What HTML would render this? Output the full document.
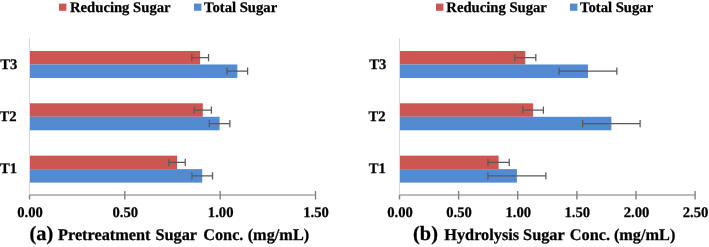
<!DOCTYPE html>
<html><head><meta charset="utf-8"><style>
html,body{margin:0;padding:0;background:#fff;width:709px;height:247px;overflow:hidden}
svg{display:block;filter:blur(0.45px)} text{text-rendering:geometricPrecision}
</style></head><body>
<svg width="709" height="247" viewBox="0 0 709 247">
<rect width="709" height="247" fill="#fff"/>
<rect x="59" y="3.6" width="7.4" height="7.2" fill="#CD5652"/>
<text x="70" y="11.5" font-family="Liberation Serif" font-weight="bold" stroke="#000" stroke-width="0.25" font-size="14.67">Reducing Sugar</text>
<rect x="194" y="3.6" width="7.4" height="7.2" fill="#548AD0"/>
<text x="204" y="11.5" font-family="Liberation Serif" font-weight="bold" stroke="#000" stroke-width="0.25" font-size="14.67">Total Sugar</text>
<line x1="29.5" y1="38.0" x2="29.5" y2="195.0" stroke="#D9D9D9" stroke-width="1"/>
<rect x="30.0" y="50.97" width="170.15" height="13.5" fill="#CD5652"/>
<rect x="30.0" y="64.47" width="207.33" height="13.5" fill="#548AD0"/>
<path d="M191.76 57.72H208.54M191.76 54.12V61.32M208.54 54.12V61.32" stroke="#595959" stroke-width="1.25" fill="none"/>
<path d="M227.03 71.22H247.62M227.03 67.62V74.82M247.62 67.62V74.82" stroke="#595959" stroke-width="1.25" fill="none"/>
<text x="17.40" y="69.27" text-anchor="end" font-family="Liberation Serif" font-weight="bold" stroke="#000" stroke-width="0.25" font-size="14.67">T3</text>
<rect x="30.0" y="103.30" width="172.82" height="13.5" fill="#CD5652"/>
<rect x="30.0" y="116.80" width="189.59" height="13.5" fill="#548AD0"/>
<path d="M194.24 110.05H211.40M194.24 106.45V113.65M211.40 106.45V113.65" stroke="#595959" stroke-width="1.25" fill="none"/>
<path d="M209.30 123.55H229.89M209.30 119.95V127.15M229.89 119.95V127.15" stroke="#595959" stroke-width="1.25" fill="none"/>
<text x="16.70" y="121.30" text-anchor="end" font-family="Liberation Serif" font-weight="bold" stroke="#000" stroke-width="0.25" font-size="14.67">T2</text>
<rect x="30.0" y="155.63" width="147.08" height="13.5" fill="#CD5652"/>
<rect x="30.0" y="169.13" width="172.24" height="13.5" fill="#548AD0"/>
<path d="M168.88 162.38H185.27M168.88 158.78V165.98M185.27 158.78V165.98" stroke="#595959" stroke-width="1.25" fill="none"/>
<path d="M191.95 175.88H212.54M191.95 172.28V179.48M212.54 172.28V179.48" stroke="#595959" stroke-width="1.25" fill="none"/>
<text x="17.00" y="173.33" text-anchor="end" font-family="Liberation Serif" font-weight="bold" stroke="#000" stroke-width="0.25" font-size="14.67">T1</text>
<line x1="29.5" y1="195.0" x2="315.50" y2="195.0" stroke="#A6A6A6" stroke-width="1.5"/>
<line x1="29.50" y1="195.0" x2="29.50" y2="199.5" stroke="#808080" stroke-width="1.4"/>
<text x="30.00" y="216.9" text-anchor="middle" font-family="Liberation Serif" font-weight="bold" stroke="#000" stroke-width="0.25" font-size="14.67">0.00</text>
<line x1="124.83" y1="191.0" x2="124.83" y2="199.5" stroke="#808080" stroke-width="1.4"/>
<text x="125.33" y="216.9" text-anchor="middle" font-family="Liberation Serif" font-weight="bold" stroke="#000" stroke-width="0.25" font-size="14.67">0.50</text>
<line x1="220.17" y1="191.0" x2="220.17" y2="199.5" stroke="#808080" stroke-width="1.4"/>
<text x="220.67" y="216.9" text-anchor="middle" font-family="Liberation Serif" font-weight="bold" stroke="#000" stroke-width="0.25" font-size="14.67">1.00</text>
<line x1="315.50" y1="191.0" x2="315.50" y2="199.5" stroke="#808080" stroke-width="1.4"/>
<text x="316.00" y="216.9" text-anchor="middle" font-family="Liberation Serif" font-weight="bold" stroke="#000" stroke-width="0.25" font-size="14.67">1.50</text>
<text x="29.6" y="239.7" font-family="Liberation Serif" font-weight="bold" stroke="#000" stroke-width="0.25" font-size="20.3">(a)</text>
<text x="58.0" y="240.2" font-family="Liberation Serif" font-weight="bold" stroke="#000" stroke-width="0.25" font-size="16.3">Pretreatment</text>
<text x="155.4" y="240.2" font-family="Liberation Serif" font-weight="bold" stroke="#000" stroke-width="0.25" font-size="16.3">Sugar</text>
<text x="203.2" y="240.2" font-family="Liberation Serif" font-weight="bold" stroke="#000" stroke-width="0.25" font-size="16.3">Conc.</text>
<text x="247.7" y="240.2" font-family="Liberation Serif" font-weight="bold" stroke="#000" stroke-width="0.25" font-size="16.3">(mg/mL)</text>
<rect x="436" y="3.6" width="7.4" height="7.2" fill="#CD5652"/>
<text x="446.3" y="11.5" font-family="Liberation Serif" font-weight="bold" stroke="#000" stroke-width="0.25" font-size="14.67">Reducing Sugar</text>
<rect x="570" y="3.6" width="7.4" height="7.2" fill="#548AD0"/>
<text x="580" y="11.5" font-family="Liberation Serif" font-weight="bold" stroke="#000" stroke-width="0.25" font-size="14.67">Total Sugar</text>
<line x1="399.5" y1="38.0" x2="399.5" y2="195.0" stroke="#D9D9D9" stroke-width="1"/>
<rect x="400.0" y="50.97" width="125.31" height="13.5" fill="#CD5652"/>
<rect x="400.0" y="64.47" width="187.97" height="13.5" fill="#548AD0"/>
<path d="M514.78 57.72H535.83M514.78 54.12V61.32M535.83 54.12V61.32" stroke="#595959" stroke-width="1.25" fill="none"/>
<path d="M559.12 71.22H616.83M559.12 67.62V74.82M616.83 67.62V74.82" stroke="#595959" stroke-width="1.25" fill="none"/>
<text x="386.30" y="69.27" text-anchor="end" font-family="Liberation Serif" font-weight="bold" stroke="#000" stroke-width="0.25" font-size="14.67">T3</text>
<rect x="400.0" y="103.30" width="133.11" height="13.5" fill="#CD5652"/>
<rect x="400.0" y="116.80" width="211.39" height="13.5" fill="#548AD0"/>
<path d="M522.82 110.05H543.40M522.82 106.45V113.65M543.40 106.45V113.65" stroke="#595959" stroke-width="1.25" fill="none"/>
<path d="M582.65 123.55H640.12M582.65 119.95V127.15M640.12 119.95V127.15" stroke="#595959" stroke-width="1.25" fill="none"/>
<text x="385.60" y="121.30" text-anchor="end" font-family="Liberation Serif" font-weight="bold" stroke="#000" stroke-width="0.25" font-size="14.67">T2</text>
<rect x="400.0" y="155.63" width="98.59" height="13.5" fill="#CD5652"/>
<rect x="400.0" y="169.13" width="116.91" height="13.5" fill="#548AD0"/>
<path d="M487.94 162.38H509.23M487.94 158.78V165.98M509.23 158.78V165.98" stroke="#595959" stroke-width="1.25" fill="none"/>
<path d="M487.94 175.88H545.88M487.94 172.28V179.48M545.88 172.28V179.48" stroke="#595959" stroke-width="1.25" fill="none"/>
<text x="385.90" y="173.33" text-anchor="end" font-family="Liberation Serif" font-weight="bold" stroke="#000" stroke-width="0.25" font-size="14.67">T1</text>
<line x1="399.5" y1="195.0" x2="695.10" y2="195.0" stroke="#A6A6A6" stroke-width="1.5"/>
<line x1="399.50" y1="195.0" x2="399.50" y2="199.5" stroke="#808080" stroke-width="1.4"/>
<text x="400.00" y="216.9" text-anchor="middle" font-family="Liberation Serif" font-weight="bold" stroke="#000" stroke-width="0.25" font-size="14.67">0.00</text>
<line x1="458.62" y1="191.0" x2="458.62" y2="199.5" stroke="#808080" stroke-width="1.4"/>
<text x="459.12" y="216.9" text-anchor="middle" font-family="Liberation Serif" font-weight="bold" stroke="#000" stroke-width="0.25" font-size="14.67">0.50</text>
<line x1="517.74" y1="191.0" x2="517.74" y2="199.5" stroke="#808080" stroke-width="1.4"/>
<text x="518.24" y="216.9" text-anchor="middle" font-family="Liberation Serif" font-weight="bold" stroke="#000" stroke-width="0.25" font-size="14.67">1.00</text>
<line x1="576.86" y1="191.0" x2="576.86" y2="199.5" stroke="#808080" stroke-width="1.4"/>
<text x="577.36" y="216.9" text-anchor="middle" font-family="Liberation Serif" font-weight="bold" stroke="#000" stroke-width="0.25" font-size="14.67">1.50</text>
<line x1="635.98" y1="191.0" x2="635.98" y2="199.5" stroke="#808080" stroke-width="1.4"/>
<text x="636.48" y="216.9" text-anchor="middle" font-family="Liberation Serif" font-weight="bold" stroke="#000" stroke-width="0.25" font-size="14.67">2.00</text>
<line x1="695.10" y1="191.0" x2="695.10" y2="199.5" stroke="#808080" stroke-width="1.4"/>
<text x="695.60" y="216.9" text-anchor="middle" font-family="Liberation Serif" font-weight="bold" stroke="#000" stroke-width="0.25" font-size="14.67">2.50</text>
<text x="413.1" y="239.7" font-family="Liberation Serif" font-weight="bold" stroke="#000" stroke-width="0.25" font-size="20.3">(b)</text>
<text x="444.3" y="240.2" font-family="Liberation Serif" font-weight="bold" stroke="#000" stroke-width="0.25" font-size="16.3">Hydrolysis</text>
<text x="523.1" y="240.2" font-family="Liberation Serif" font-weight="bold" stroke="#000" stroke-width="0.25" font-size="16.3">Sugar</text>
<text x="569.8" y="240.2" font-family="Liberation Serif" font-weight="bold" stroke="#000" stroke-width="0.25" font-size="16.3">Conc.</text>
<text x="613.9" y="240.2" font-family="Liberation Serif" font-weight="bold" stroke="#000" stroke-width="0.25" font-size="16.3">(mg/mL)</text>
</svg>
</body></html>
